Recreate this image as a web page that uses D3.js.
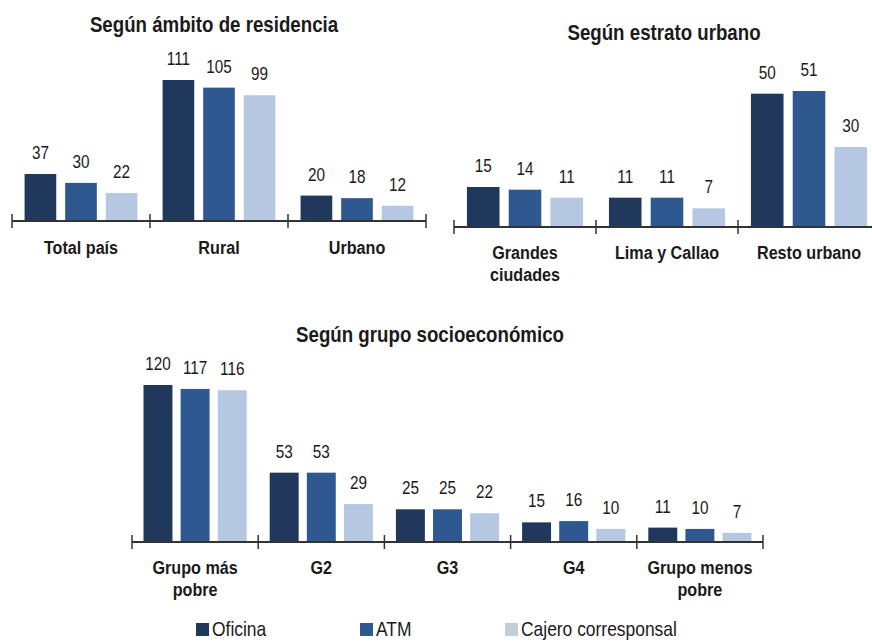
<!DOCTYPE html>
<html>
<head>
<meta charset="UTF-8">
<title>Canales de atención</title>
<script src="https://cdn.jsdelivr.net/npm/d3@7"></script>
<style>
  body { margin: 0; background: #fff; }
  svg text { font-family: 'Liberation Sans', Arial, sans-serif; fill: #1a1a1a; }
  .title { font-weight: bold; font-size: 22px; }
  .cat { font-weight: bold; font-size: 19px; }
  .val { font-size: 18px; }
  .leg { font-size: 20.5px; }
</style>
</head>
<body>
<script>
// series y colores
var series = ["Oficina", "ATM", "Cajero corresponsal"];
var colors = ["#1f385c", "#2f5891", "#b6c8e1"];
var legColors = ["#1f385c", "#2f5891", "#c6ccd5"];

// Según ámbito de residencia
var residCats = ["Total país", "Rural", "Urbano"];
var residVals = [[37, 30, 22], [111, 105, 99], [20, 18, 12]];

// Según estrato urbano
var estratoCats = ["Grandes\nciudades", "Lima y Callao", "Resto urbano"];
var estratoVals = [[15, 14, 11], [11, 11, 7], [50, 51, 30]];

// Según grupo socioeconómico
var grupoCats = ["Grupo más\npobre", "G2", "G3", "G4", "Grupo menos\npobre"];
var grupoVals = [[120, 117, 116], [53, 53, 29], [25, 25, 22], [15, 16, 10], [11, 10, 7]];

var width = 872, height = 642;
var narrow = 0.85; // la fuente original es condensada

var svg = d3.select("body").append("svg")
    .attr("width", width)
    .attr("height", height);

function place(x, y) {
    return "translate(" + x + "," + y + ") scale(" + narrow + ",1)";
}

function drawPanel(opt) {
    var g = svg.append("g");

    var x0 = d3.scaleBand()
        .domain(opt.cats)
        .range(opt.xRange)
        .padding(0);

    var x1 = d3.scaleBand()
        .domain(series)
        .range([0, x0.bandwidth()])
        .paddingInner(0.22)
        .paddingOuter(0.31);

    var y = d3.scaleLinear()
        .domain([0, opt.max])
        .range([opt.base, opt.top]);

    // titulo
    g.append("text")
        .attr("class", "title")
        .attr("transform", place(opt.titleX, opt.titleY))
        .attr("text-anchor", "middle")
        .text(opt.title);

    var groups = g.selectAll(".grp")
        .data(opt.cats)
        .enter().append("g")
        .attr("transform", function(d) { return "translate(" + x0(d) + ",0)"; });

    groups.selectAll("rect")
        .data(function(d, i) { return opt.vals[i]; })
        .enter().append("rect")
        .attr("x", function(d, j) { return x1(series[j]); })
        .attr("y", function(d) { return y(d); })
        .attr("width", x1.bandwidth())
        .attr("height", function(d) { return y(0) - y(d); })
        .style("fill", function(d, j) { return colors[j]; });

    groups.selectAll(".val")
        .data(function(d, i) { return opt.vals[i]; })
        .enter().append("text")
        .attr("class", "val")
        .attr("transform", function(d, j) {
            return place(x1(series[j]) + x1.bandwidth() / 2, y(d) - 15);
        })
        .attr("text-anchor", "middle")
        .text(function(d) { return d; });

    // eje
    g.append("line")
        .attr("x1", opt.xRange[0]).attr("x2", opt.xRange[1])
        .attr("y1", y(0)).attr("y2", y(0))
        .style("stroke", "#333").style("stroke-width", 2);

    var bounds = opt.cats.map(function(d) { return x0(d); }).concat([opt.xRange[1]]);
    g.selectAll(".tick")
        .data(bounds)
        .enter().append("line")
        .attr("x1", function(d) { return d; }).attr("x2", function(d) { return d; })
        .attr("y1", y(0) - 7).attr("y2", y(0) + 7)
        .style("stroke", "#333").style("stroke-width", 1.5);

    var labels = groups.append("text")
        .attr("class", "cat")
        .attr("text-anchor", "middle")
        .attr("transform", place(x0.bandwidth() / 2, y(0) + opt.labelDy));

    labels.selectAll("tspan")
        .data(function(d) { return d.split("\n"); })
        .enter().append("tspan")
        .attr("x", 0)
        .attr("dy", function(d, i) { return i === 0 ? 0 : 22; })
        .text(function(d) { return d; });
}

drawPanel({
    title: "Según ámbito de residencia", titleX: 214, titleY: 32,
    cats: residCats, vals: residVals,
    xRange: [12, 426], base: 221, top: 80, max: 111, labelDy: 33
});

drawPanel({
    title: "Según estrato urbano", titleX: 664, titleY: 40,
    cats: estratoCats, vals: estratoVals,
    xRange: [454, 880], base: 227, top: 91, max: 51, labelDy: 32
});

drawPanel({
    title: "Según grupo socioeconómico", titleX: 430, titleY: 342,
    cats: grupoCats, vals: grupoVals,
    xRange: [132, 763], base: 542, top: 385, max: 120, labelDy: 32
});

// leyenda
var legX = [196, 360, 505];
var leg = svg.selectAll(".legitem")
    .data(series)
    .enter().append("g")
    .attr("transform", function(d, i) { return "translate(" + legX[i] + ",623)"; });

leg.append("rect")
    .attr("width", 13).attr("height", 13)
    .style("fill", function(d, i) { return legColors[i]; });

leg.append("text")
    .attr("class", "leg")
    .attr("transform", place(16, 13))
    .text(function(d) { return d; });
</script>
</body>
</html>
